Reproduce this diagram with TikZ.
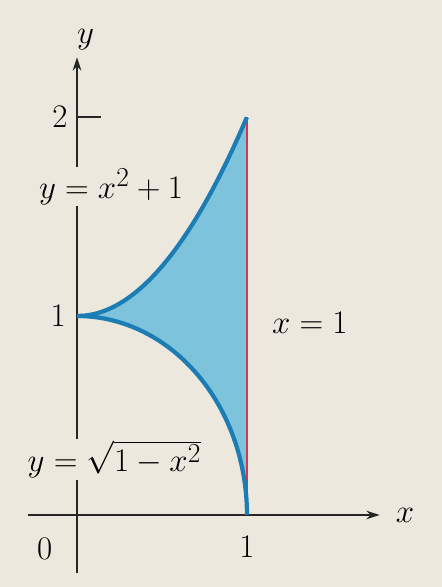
\documentclass[tikz,border=0pt]{standalone}
\usepackage{xcolor}
\usepackage{amsmath}
\usepackage{tikz}
\usetikzlibrary{arrows.meta}
\definecolor{paperbg}{HTML}{EDE8DE}
\definecolor{regionblue}{HTML}{7DC3DC}
\definecolor{curveblue}{HTML}{1B7DB3}
\definecolor{linered}{HTML}{D2394F}
\tikzset{
  axis/.style={
    -{Stealth[length=4mm,width=2.6mm]},
    line width=1.3pt,
    draw=black!85
  },
  boundary/.style={
    line width=3.6pt,
    draw=curveblue,
    line join=round
  },
  region/.style={
    fill=regionblue
  },
  vline/.style={
    line width=1.5pt,
    draw=linered
  },
  lbl/.style={
    font=\Huge,
    scale=1.13,
    transform shape,
    inner sep=1pt
  },
  curvelbl/.style={
    lbl,
    fill=paperbg
  }
}

\begin{document}
\begin{tikzpicture}[x=5.1cm, y=5.97cm]
  \fill[paperbg] (-2.31cm,-2.16cm) rectangle (10.95cm,15.45cm);
  \useasboundingbox (-2.31cm,-2.16cm) rectangle (10.95cm,15.45cm);

  \coordinate (origin) at (0,0);
  \coordinate (xstart) at (-0.29,0);
  \coordinate (xend) at (1.78,0);
  \coordinate (ystart) at (0,-0.29);
  \coordinate (yend) at (0,2.30);
  \coordinate (cusp) at (0,1);
  \coordinate (top) at (1,2);
  \coordinate (foot) at (1,0);
  \coordinate (tick) at (0.14,2);

  % shaded region
  \fill[region] plot[domain=0:1, samples=60] (\x,{\x*\x+1})
    -- plot[domain=0:90, samples=60, variable=\t] ({cos(\t)},{sin(\t)}) -- cycle;

  % axes
  \draw[axis] (xstart) -- (xend);
  \draw[axis] (ystart) -- (yend);
  \draw[line width=1.3pt, draw=black!85] (0,2) -- (tick);

  % boundary
  \draw[vline] (foot) -- (top);
  \draw[boundary] plot[domain=0:1, samples=60] (\x,{\x*\x+1});
  \draw[boundary] plot[domain=0:90, samples=60, variable=\t] ({cos(\t)},{sin(\t)});

  % labels
  \node[lbl] (ylabel) at (0.05,2.39) {$y$};
  \node[lbl] (xlabel) at (1.93,0) {$x$};
  \node[lbl] (zero) at (-0.19,-0.17) {$0$};
  \node[lbl] (xone) at (1,-0.16) {$1$};
  \node[lbl] (ytwo) at (-0.1,2) {$2$};
  \node[lbl] (yone) at (-0.11,1) {$1$};
  \node[curvelbl] (parab) at (0.2,1.65) {$y = x^2 + 1$};
  \node[curvelbl] (circ) at (0.22,0.28) {$y = \sqrt{1 - x^2}$};
  \node[lbl] (vlabel) at (1.37,0.965) {$x = 1$};
\end{tikzpicture}
\end{document}
